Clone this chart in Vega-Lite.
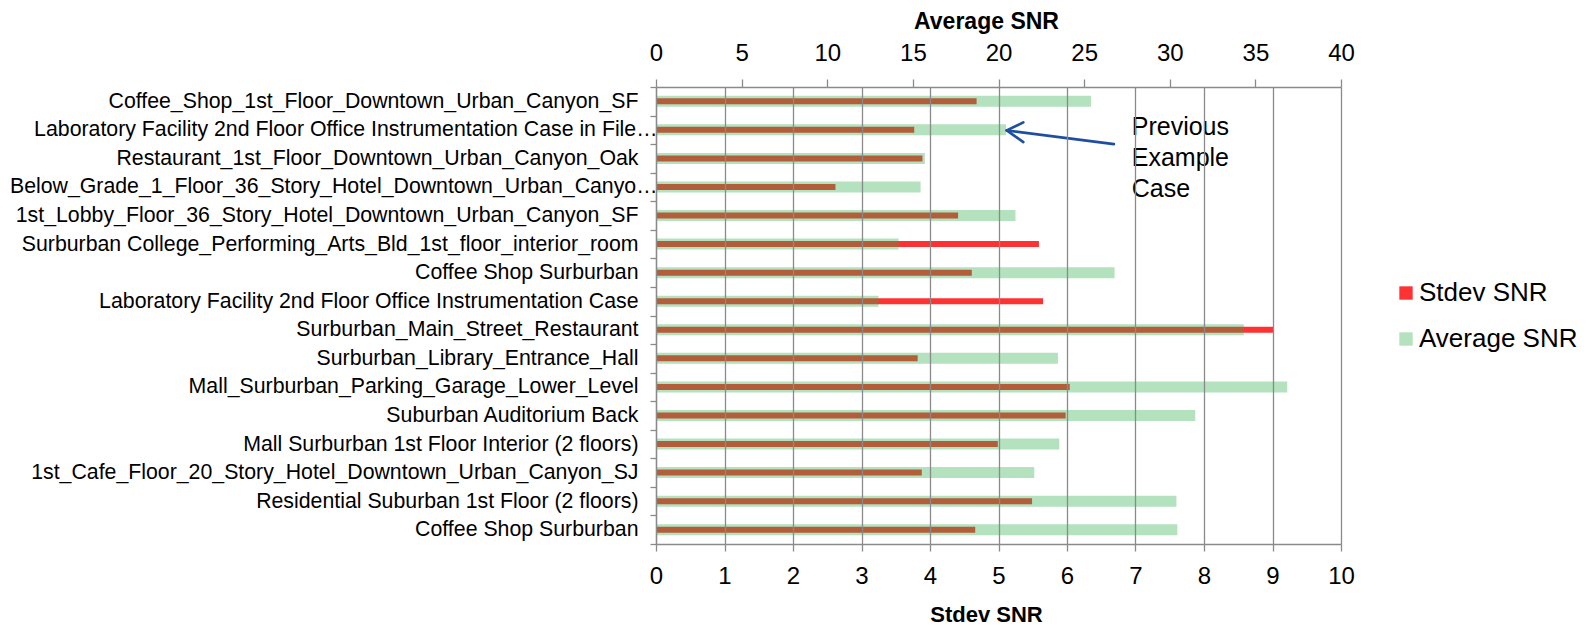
{
  "$schema": "https://vega.github.io/schema/vega-lite/v6.json",
  "width": 685,
  "height": 457,
  "autosize": {"type": "none"},
  "padding": {"left": 656, "top": 87, "right": 252, "bottom": 82},
  "background": "white",
  "config": {
    "font": "Liberation Sans",
    "view": {"stroke": null},
    "axis": {
      "labelColor": "black",
      "titleColor": "black",
      "domainColor": "#8a8a8a",
      "domainWidth": 1.3,
      "tickColor": "#8a8a8a",
      "tickWidth": 1.3,
      "gridColor": "#8a8a8a",
      "gridWidth": 1.3,
      "labelFont": "Liberation Sans",
      "titleFont": "Liberation Sans"
    }
  },
  "datasets": {
    "snr": [
      {"location": "Coffee_Shop_1st_Floor_Downtown_Urban_Canyon_SF", "avg": 25.4, "stdev": 4.68},
      {"location": "Laboratory Facility 2nd Floor Office Instrumentation Case in File…", "avg": 20.44, "stdev": 3.77},
      {"location": "Restaurant_1st_Floor_Downtown_Urban_Canyon_Oak", "avg": 15.7, "stdev": 3.89},
      {"location": "Below_Grade_1_Floor_36_Story_Hotel_Downtown_Urban_Canyo…", "avg": 15.45, "stdev": 2.62},
      {"location": "1st_Lobby_Floor_36_Story_Hotel_Downtown_Urban_Canyon_SF", "avg": 20.99, "stdev": 4.41},
      {"location": "Surburban College_Performing_Arts_Bld_1st_floor_interior_room", "avg": 14.16, "stdev": 5.59},
      {"location": "Coffee Shop Surburban", "avg": 26.78, "stdev": 4.61},
      {"location": "Laboratory Facility 2nd Floor Office Instrumentation Case", "avg": 13.0, "stdev": 5.65},
      {"location": "Surburban_Main_Street_Restaurant", "avg": 34.33, "stdev": 9.01},
      {"location": "Surburban_Library_Entrance_Hall", "avg": 23.47, "stdev": 3.82},
      {"location": "Mall_Surburban_Parking_Garage_Lower_Level", "avg": 36.86, "stdev": 6.04},
      {"location": "Suburban Auditorium Back", "avg": 31.49, "stdev": 5.98},
      {"location": "Mall Surburban 1st Floor Interior (2 floors)", "avg": 23.55, "stdev": 4.99},
      {"location": "1st_Cafe_Floor_20_Story_Hotel_Downtown_Urban_Canyon_SJ", "avg": 22.09, "stdev": 3.88},
      {"location": "Residential Suburban 1st Floor (2 floors)", "avg": 30.39, "stdev": 5.49},
      {"location": "Coffee Shop Surburban\u200b", "avg": 30.44, "stdev": 4.66}
    ],
    "arrow": [
      {"x": 20.48, "y": 1.52, "x2": 26.74, "y2": 2.0},
      {"x": 20.48, "y": 1.52, "x2": 21.45, "y2": 1.24},
      {"x": 20.48, "y": 1.52, "x2": 21.45, "y2": 1.93}
    ],
    "note": [
      {"x": 27.78, "y": 1.408, "label": "Previous\nExample\nCase"}
    ]
  },
  "layer": [
    {
      "data": {"name": "snr"},
      "mark": {"type": "bar", "height": 6, "opacity": 1},
      "encoding": {
        "y": {
          "field": "location",
          "type": "nominal",
          "sort": null,
          "scale": {"paddingInner": 0, "paddingOuter": 0},
          "axis": {
            "title": null,
            "labelFontSize": 21.3,
            "labelLimit": 900,
            "labelPadding": {"condition": {"test": "slice(datum.label, -1) === '…'", "value": -7}, "value": 12},
            "tickSize": 6,
            "tickBand": "extent",
            "grid": false
          }
        },
        "x": {
          "field": "stdev",
          "type": "quantitative",
          "scale": {"domain": [0, 10], "nice": false},
          "axis": {
            "orient": "bottom",
            "title": "Stdev SNR",
            "values": [0, 1, 2, 3, 4, 5, 6, 7, 8, 9, 10],
            "grid": true,
            "zindex": 1,
            "tickSize": 7,
            "labelPadding": 13,
            "labelFontSize": 24,
            "labelFlush": false,
            "titleFontSize": 22,
            "titleFontWeight": "bold",
            "titleX": 330,
            "titleY": 77,
            "titleBaseline": "alphabetic",
            "titleAlign": "center"
          }
        },
        "color": {
          "datum": "Stdev SNR",
          "scale": {"domain": ["Stdev SNR", "Average SNR"], "range": ["#fe3232", "#b4e1be"]},
          "legend": {
            "title": null,
            "orient": "none",
            "direction": "vertical",
            "legendX": 737,
            "legendY": 193,
            "symbolType": "square",
            "symbolSize": 178,
            "symbolStrokeWidth": 0,
            "labelFontSize": 26,
            "labelFont": "Liberation Sans",
            "labelColor": "black",
            "labelOffset": 0,
            "rowPadding": 20,
            "padding": 0
          }
        }
      }
    },
    {
      "data": {"name": "snr"},
      "mark": {"type": "bar", "height": 11, "color": "#2eab4b", "opacity": 0.36},
      "encoding": {
        "y": {
          "field": "location",
          "type": "nominal",
          "sort": null,
          "scale": {"paddingInner": 0, "paddingOuter": 0},
          "axis": null
        },
        "x": {
          "field": "avg",
          "type": "quantitative",
          "scale": {"domain": [0, 40], "nice": false},
          "axis": {
            "orient": "top",
            "title": "Average SNR",
            "values": [0, 5, 10, 15, 20, 25, 30, 35, 40],
            "grid": false,
            "tickSize": 8,
            "labelPadding": 14,
            "labelFontSize": 24,
            "labelFlush": false,
            "titleFontSize": 23,
            "titleFontWeight": "bold",
            "titleX": 330,
            "titleY": -59,
            "titleBaseline": "alphabetic",
            "titleAlign": "center"
          }
        }
      }
    },
    {
      "data": {"name": "arrow"},
      "mark": {"type": "rule", "color": "#1f4ea1", "strokeWidth": 2.6, "strokeCap": "round"},
      "encoding": {
        "x": {"field": "x", "type": "quantitative", "scale": {"domain": [0, 40], "nice": false}, "axis": null},
        "x2": {"field": "x2"},
        "y": {"field": "y", "type": "quantitative", "scale": {"domain": [0, 16], "nice": false, "reverse": true, "zero": false}, "axis": null},
        "y2": {"field": "y2"}
      }
    },
    {
      "data": {"name": "note"},
      "mark": {"type": "text", "align": "left", "baseline": "middle", "fontSize": 25, "lineBreak": "\n", "lineHeight": 30.7, "color": "black", "font": "Liberation Sans"},
      "encoding": {
        "x": {"field": "x", "type": "quantitative", "scale": {"domain": [0, 40], "nice": false}, "axis": null},
        "y": {"field": "y", "type": "quantitative", "scale": {"domain": [0, 16], "nice": false, "reverse": true, "zero": false}, "axis": null},
        "text": {"field": "label"}
      }
    }
  ],
  "resolve": {
    "scale": {"x": "independent", "y": "independent"},
    "axis": {"x": "independent", "y": "independent"}
  }
}
